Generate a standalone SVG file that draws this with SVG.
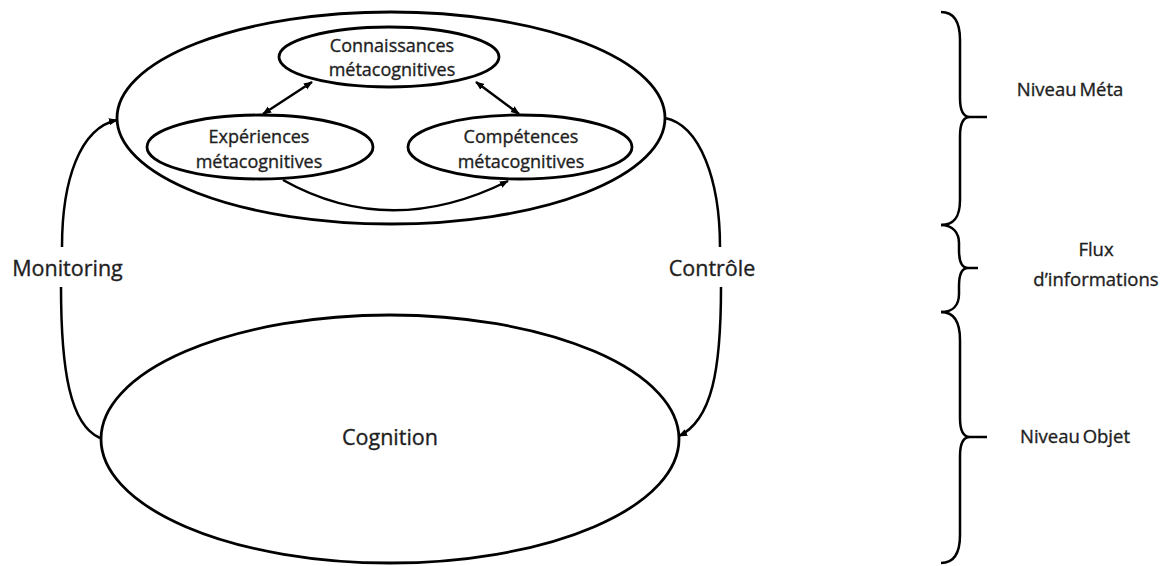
<svg xmlns="http://www.w3.org/2000/svg" width="1171" height="566" viewBox="0 0 1171 566">
<style>
.n{fill:none;stroke:#000;stroke-width:2.8}
.c{fill:none;stroke:#000;stroke-width:2.5}
.t{font-family:"Open Sans","Liberation Sans",sans-serif;fill:#1e1e1e;stroke:#1e1e1e;stroke-width:0.35;text-anchor:middle}
.s{font-size:18px}
.l{font-size:21.5px}
.r{font-size:18.5px}
</style>
<defs>
<marker id="ah" viewBox="0 0 10 10" refX="9" refY="5" markerWidth="9" markerHeight="9" markerUnits="userSpaceOnUse" orient="auto-start-reverse">
<path d="M0,1 L10,5 L0,9 z" fill="#000"/>
</marker>
</defs>
<rect width="1171" height="566" fill="#fff"/>
<g id="meta">
<ellipse class="n" cx="391" cy="118" rx="274" ry="106"/>
</g>
<g id="connaissances">
<ellipse class="n" cx="389" cy="57" rx="110" ry="30"/>
<text class="t s" x="392" y="52">Connaissances</text>
<text class="t s" x="392" y="76">métacognitives</text>
</g>
<g id="experiences">
<ellipse class="n" cx="260" cy="147" rx="113" ry="32"/>
<text class="t s" x="259" y="143">Expériences</text>
<text class="t s" x="259" y="168">métacognitives</text>
</g>
<g id="competences">
<ellipse class="n" cx="520" cy="147" rx="112" ry="32"/>
<text class="t s" x="521" y="143">Compétences</text>
<text class="t s" x="521" y="168">métacognitives</text>
</g>
<g id="cognition">
<ellipse class="n" cx="390" cy="439" rx="289" ry="124"/>
<text class="t l" x="390" y="445">Cognition</text>
</g>
<g id="connectors">
<path class="c" d="M100,438 C70,425 61,370 61,287"/>
<path class="c" d="M62,247 C62,180 80,128 117,120" marker-end="url(#ah)"/>
<path class="c" d="M665,118 C700,125 720,180 720,247"/>
<path class="c" d="M721,287 C721,370 712,420 679,436" marker-end="url(#ah)"/>
<line class="c" x1="312" y1="82" x2="263" y2="114" marker-start="url(#ah)" marker-end="url(#ah)"/>
<line class="c" x1="476" y1="82" x2="519" y2="114" marker-start="url(#ah)" marker-end="url(#ah)"/>
<path class="c" d="M283,180 Q390,240 508,181" marker-end="url(#ah)"/>
</g>
<g id="labels">
<text class="t l" x="67.5" y="276">Monitoring</text>
<text class="t l" x="712" y="276">Contrôle</text>
</g>
<g id="braces">
<path class="c" d="M941,12 C955,12 960,24 960,40 L960,98 C960,111 963,117 970,117 L987,117 L970,117 C963,117 960,123 960,136 L960,200 C960,216 955,225 941,225"/>
<path class="c" d="M941,225 C953,225 959,233 959,243 L959,250 C959,262 962,268 968,268 L978,268 L968,268 C962,268 959,274 959,286 L959,294 C959,305 953,312 941,312"/>
<path class="c" d="M941,312 C955,312 960,324 960,340 L960,418 C960,431 963,437 970,437 L987,437 L970,437 C963,437 960,443 960,456 L960,535 C960,551 955,563 941,563"/>
</g>
<g id="levels">
<text class="t r" x="1070" y="96" word-spacing="-2">Niveau Méta</text>
<text class="t r" x="1096" y="256">Flux</text>
<text class="t r" x="1096" y="286">d’informations</text>
<text class="t r" x="1075" y="443" word-spacing="-2">Niveau Objet</text>
</g>
</svg>
